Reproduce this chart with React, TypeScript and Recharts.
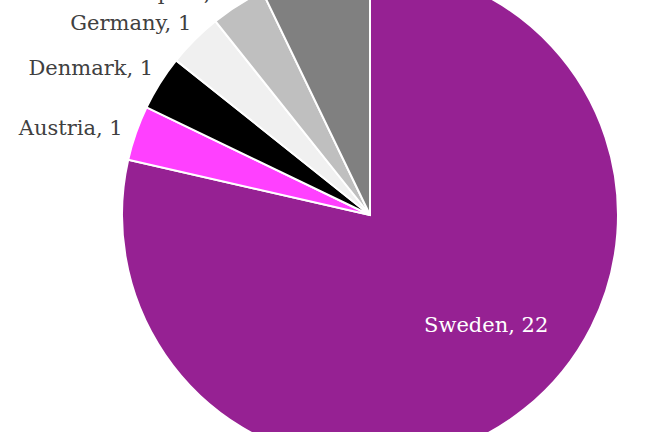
import React from "react";
import { PieChart, Pie, Cell } from "recharts";

const countries = ["Sweden", "Austria", "Denmark", "Germany", "Spain", "United Kingdom"];
const counts = [22, 1, 1, 1, 1, 2];
const colors = ["#962193", "#ff40ff", "#000000", "#f0f0f0", "#bfbfbf", "#808080"];

const data = countries.map((name, i) => ({ name, value: counts[i] }));

const RAD = Math.PI / 180;

function renderLabel(props: any) {
  const { cx, cy, midAngle, outerRadius, name, value, index } = props;
  const inside = index === 0;
  // the big slice gets its label inside, nudged a bit toward the right;
  // middle outer labels sit slightly higher than the slice midpoint
  let angle = midAngle;
  if (inside) angle += 8;
  else if (index === 2 || index === 3) angle -= 2;
  const r = inside ? 160 : outerRadius + 14;
  const x = cx + r * Math.cos(-angle * RAD);
  const y = cy + r * Math.sin(-angle * RAD);
  return (
    <text
      x={x}
      y={y}
      fill={inside ? "#ffffff" : "#404040"}
      textAnchor={inside ? "middle" : x > cx ? "start" : "end"}
      dominantBaseline="central"
      style={{ fontFamily: "'DejaVu Serif', serif", fontSize: 21 }}
    >
      {`${name}, ${value}`}
    </text>
  );
}

export default function App() {
  return (
    <div style={{ position: "absolute", top: 0, left: 0, width: 653, height: 432, background: "#fff" }}>
      <PieChart width={653} height={432} margin={{ top: 0, right: 0, bottom: 0, left: 0 }}>
        <Pie
          data={data}
          dataKey="value"
          nameKey="name"
          cx={370}
          cy={215}
          outerRadius={248}
          startAngle={90}
          endAngle={-270}
          stroke="#ffffff"
          strokeWidth={2}
          label={renderLabel}
          labelLine={false}
          isAnimationActive={false}
        >
          {data.map((d, i) => (
            <Cell key={d.name} fill={colors[i]} />
          ))}
        </Pie>
      </PieChart>
    </div>
  );
}
